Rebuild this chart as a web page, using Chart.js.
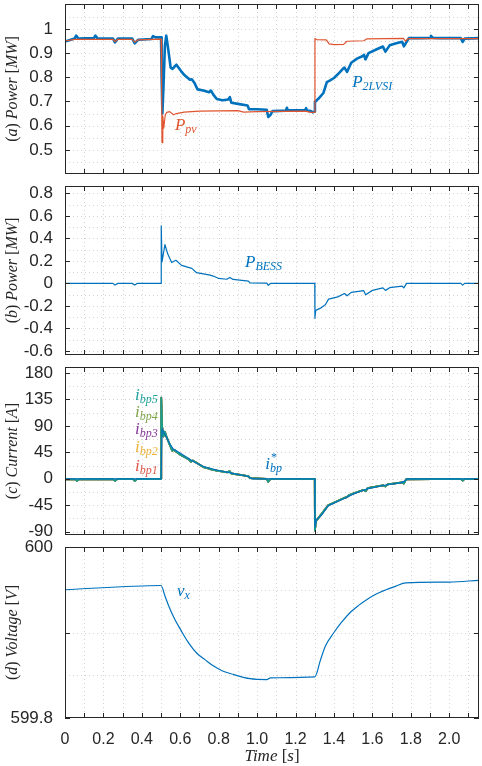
<!DOCTYPE html>
<html>
<head>
<meta charset="utf-8">
<script src="https://cdn.jsdelivr.net/npm/chart.js@4.4.0/dist/chart.umd.min.js"></script>
<style>
  body { margin: 0; background: #fff; }
  #wrap { position: relative; width: 482px; height: 766px; }
  .panel { position: absolute; left: 0; width: 482px; }
</style>
</head>
<body>
<div id="wrap">
  <div class="panel" style="top:0;height:180px"><canvas id="cA"></canvas></div>
  <div class="panel" style="top:180px;height:180px"><canvas id="cB"></canvas></div>
  <div class="panel" style="top:360px;height:180px"><canvas id="cC"></canvas></div>
  <div class="panel" style="top:540px;height:226px"><canvas id="cD"></canvas></div>
</div>
<script>
// time axis
const xMajor = [0, 0.2, 0.4, 0.6, 0.8, 1.0, 1.2, 1.4, 1.6, 1.8, 2.0];
const xLabels = ['0', '0.2', '0.4', '0.6', '0.8', '1.0', '1.2', '1.4', '1.6', '1.8', '2.0'];
const xMinor = [0.1, 0.3, 0.5, 0.7, 0.9, 1.1, 1.3, 1.5, 1.7, 1.9, 2.1];

// (a) power [MW]  -- [time, value]
const pPv = [[0,0.95],[0.05,0.957],[0.25,0.957],[0.26,0.947],[0.275,0.957],[0.35,0.957],[0.363,0.945],[0.38,0.955],
  [0.5,0.958],[0.503,0.75],[0.505,0.53],[0.509,0.64],[0.514,0.59],[0.522,0.645],[0.53,0.655],[0.545,0.658],
  [0.565,0.645],[0.58,0.65],[0.62,0.656],[0.7,0.66],[0.9,0.662],[0.93,0.656],[1.0,0.658],[1.25,0.66],[1.28,0.655],
  [1.3,0.655],[1.301,0.96],[1.31,0.956],[1.36,0.955],[1.375,0.938],[1.4,0.935],[1.45,0.936],[1.468,0.949],
  [1.555,0.951],[1.572,0.959],[1.762,0.961],[1.772,0.949],[1.785,0.96],[2.155,0.96]];
const pInv = [[0,0.948],[0.03,0.955],[0.05,0.96],[0.058,0.972],[0.07,0.96],[0.15,0.962],[0.158,0.972],[0.17,0.96],
  [0.25,0.96],[0.26,0.944],[0.275,0.96],[0.35,0.96],[0.363,0.94],[0.38,0.955],[0.45,0.958],[0.458,0.97],[0.47,0.965],
  [0.5,0.965],[0.503,0.8],[0.507,0.65],[0.512,0.75],[0.52,0.93],[0.527,0.972],[0.535,0.93],[0.55,0.84],[0.56,0.835],
  [0.58,0.852],[0.6,0.83],[0.62,0.81],[0.65,0.79],[0.66,0.792],[0.675,0.775],[0.69,0.75],[0.72,0.745],[0.75,0.738],
  [0.76,0.745],[0.772,0.728],[0.79,0.71],[0.82,0.705],[0.85,0.708],[0.858,0.718],[0.866,0.695],[0.9,0.69],[0.95,0.683],
  [0.958,0.668],[1.0,0.668],[1.05,0.666],[1.058,0.636],[1.07,0.645],[1.08,0.66],[1.15,0.662],[1.155,0.674],[1.16,0.663],
  [1.25,0.664],[1.255,0.672],[1.26,0.662],[1.28,0.66],[1.29,0.655],[1.3,0.658],[1.301,0.698],[1.32,0.712],[1.345,0.735],
  [1.363,0.78],[1.38,0.787],[1.4,0.797],[1.43,0.82],[1.45,0.838],[1.455,0.84],[1.468,0.822],[1.49,0.86],[1.52,0.877],
  [1.55,0.888],[1.556,0.893],[1.564,0.874],[1.58,0.9],[1.62,0.915],[1.655,0.927],[1.668,0.906],[1.69,0.932],[1.72,0.94],
  [1.755,0.947],[1.764,0.928],[1.79,0.962],[1.85,0.962],[1.9,0.963],[1.905,0.971],[1.915,0.963],[1.95,0.962],
  [2.06,0.962],[2.07,0.946],[2.08,0.96],[2.155,0.962]];
const yMajorA = [0.5, 0.6, 0.7, 0.8, 0.9, 1];
const yLabelsA = ['0.5', '0.6', '0.7', '0.8', '0.9', '1'];
const yGridA = [0.45, 0.5, 0.55, 0.6, 0.65, 0.7, 0.75, 0.8, 0.85, 0.9, 0.95, 1, 1.05];

// (b) BESS power [MW]
const pBess = [[0,0],[0.25,0],[0.26,-0.015],[0.275,0],[0.35,0],[0.363,-0.015],[0.375,0],[0.5,0],[0.501,0.51],
  [0.505,0.19],[0.52,0.345],[0.535,0.26],[0.555,0.185],[0.577,0.205],[0.607,0.16],[0.66,0.133],[0.685,0.095],
  [0.755,0.074],[0.772,0.065],[0.8,0.044],[0.842,0.037],[0.858,0.053],[0.875,0.035],[0.955,0.02],[0.963,0.004],
  [1.05,0.003],[1.058,-0.018],[1.07,0],[1.3,0],[1.301,-0.31],[1.305,-0.24],[1.33,-0.22],[1.355,-0.19],[1.372,-0.14],
  [1.42,-0.12],[1.455,-0.09],[1.468,-0.11],[1.49,-0.08],[1.555,-0.065],[1.565,-0.1],[1.6,-0.062],[1.655,-0.04],
  [1.668,-0.062],[1.69,-0.038],[1.755,-0.025],[1.764,-0.04],[1.778,0],[2.06,0],[2.07,-0.015],[2.08,0],[2.155,0]];
const yMajorB = [-0.6, -0.4, -0.2, 0, 0.2, 0.4, 0.6, 0.8];
const yLabelsB = ['-0.6', '-0.4', '-0.2', '0', '0.2', '0.4', '0.6', '0.8'];
const yGridB = [-0.6, -0.5, -0.4, -0.3, -0.2, -0.1, 0, 0.1, 0.2, 0.3, 0.4, 0.5, 0.6, 0.7, 0.8];

// (c) current [A]
const iRef = [[0,0],[0.5,0],[0.501,0],[0.505,85],[0.515,78],[0.528,71],[0.545,60],[0.563,51],[0.607,42],[0.66,31],
  [0.72,21],[0.79,15],[0.86,10],[0.92,6],[0.955,4],[0.972,0],[1.3,0],[1.301,-83],[1.308,-70],[1.335,-62],[1.37,-46],
  [1.45,-34],[1.5,-26],[1.574,-17],[1.66,-11],[1.747,-7],[1.774,-3],[1.78,0],[2.155,0]];
const iBp = [[0,-1],[0.055,-1],[0.062,-3.5],[0.072,-1],[0.25,-0.5],[0.26,-3.5],[0.272,-0.5],[0.355,-0.5],[0.363,-3.5],
  [0.375,-0.5],[0.5,0],[0.501,138],[0.505,90],[0.512,72],[0.52,80],[0.53,70],[0.545,58],[0.558,48],[0.568,49],
  [0.6,41],[0.645,33],[0.655,29],[0.665,31],[0.72,20],[0.755,17],[0.765,15.5],[0.79,14],[0.845,11],[0.856,13],
  [0.866,9],[0.93,6],[0.955,4],[0.963,1],[1.05,0],[1.058,-5],[1.07,0],[1.3,0],[1.301,-88],[1.306,-72],[1.335,-60],
  [1.37,-45],[1.45,-33],[1.468,-31],[1.478,-28],[1.5,-25],[1.555,-19],[1.565,-21],[1.575,-16],[1.655,-11],
  [1.668,-13],[1.68,-9.5],[1.755,-6],[1.764,-8],[1.775,-1],[2.06,0],[2.07,-3],[2.08,0],[2.155,0]];
const yMajorC = [-90, -45, 0, 45, 90, 135, 180];
const yLabelsC = ['-90', '-45', '0', '45', '90', '135', '180'];
const yGridC = [-90, -67.5, -45, -22.5, 0, 22.5, 45, 67.5, 90, 112.5, 135, 157.5, 180];

// (d) voltage [V]
const vX = [[0,599.95],[0.5,599.955],[0.52,599.943],[0.54,599.931],[0.57,599.916],[0.6,599.904],[0.64,599.889],[0.685,599.876],
  [0.73,599.868],[0.772,599.861],[0.82,599.855],[0.876,599.851],[0.963,599.846],[1.05,599.845],[1.07,599.847],
  [1.3,599.848],[1.33,599.868],[1.355,599.884],[1.4,599.9],[1.44,599.912],[1.487,599.924],[1.53,599.932],
  [1.574,599.939],[1.62,599.945],[1.66,599.949],[1.72,599.954],[1.774,599.958],[2.0,599.959],[2.155,599.961]];
const yMajorD = [599.8, 599.9, 600];
const yLabelsD = ['599.8', '', '600'];
const yGridD = [599.8, 599.85, 599.9, 599.95, 600];

const SANS = '"Liberation Sans", Arial, sans-serif';
const SERIF = '"Liberation Serif", "Times New Roman", serif';
const it = s => `italic ${s}px ${SERIF}`;
const up = s => `${s}px ${SERIF}`;
const BLUE = '#0072BD', RED = '#E0552F';

function axisTitle(letter, word, unit) {
  return [{s: '(', f: up(16)}, {s: letter, f: it(16)}, {s: ') ', f: up(16)}, {s: word, f: it(16)},
          {s: ' [', f: up(16)}, {s: unit, f: it(16)}, {s: ']', f: up(16)}];
}
function sub(main, low, color, t, v) {
  return {t, v, color, parts: [{s: main, f: it(17)}, {s: low, f: it(12), dy: 3}]};
}

function drawRich(ctx, parts, x, y, align) {
  let w = 0;
  parts.forEach(p => { ctx.font = p.f; if (!p.stack) w += ctx.measureText(p.s).width; });
  let cx = align === 'center' ? x - w / 2 : x;
  parts.forEach(p => {
    ctx.font = p.f;
    ctx.fillText(p.s, cx + (p.dx || 0), y + (p.dy || 0));
    if (!p.stack) cx += ctx.measureText(p.s).width;
  });
}

const extras = {};
const frame = {
  id: 'frame',
  beforeDatasetsDraw(chart) {
    const e = extras[chart.canvas.id];
    const {ctx, chartArea: a} = chart;
    const x = chart.scales.x, y = chart.scales.y;
    ctx.save();
    ctx.strokeStyle = '#d4d4d4';
    ctx.lineWidth = 1;
    ctx.setLineDash([1, 3]);
    ctx.beginPath();
    xMajor.concat(xMinor).forEach(v => {
      const p = Math.round(x.getPixelForValue(v)) + 0.5;
      if (p > a.left + 1 && p < a.right - 1) { ctx.moveTo(p, a.top); ctx.lineTo(p, a.bottom); }
    });
    e.yGrid.forEach(v => {
      const p = Math.round(y.getPixelForValue(v)) + 0.5;
      if (p > a.top + 1 && p < a.bottom - 1) { ctx.moveTo(a.left, p); ctx.lineTo(a.right, p); }
    });
    ctx.stroke();
    ctx.restore();
  },
  afterDatasetsDraw(chart) {
    const e = extras[chart.canvas.id];
    const {ctx, chartArea: a} = chart;
    const x = chart.scales.x, y = chart.scales.y;
    ctx.save();
    ctx.strokeStyle = '#262626';
    ctx.lineWidth = 1;
    ctx.strokeRect(Math.round(a.left) + 0.5, Math.round(a.top) + 0.5,
                   Math.round(a.right - a.left) - 1, Math.round(a.bottom - a.top) - 1);
    ctx.beginPath();
    xMajor.concat(xMinor).forEach(v => {
      const p = Math.round(x.getPixelForValue(v)) + 0.5;
      ctx.moveTo(p, a.top); ctx.lineTo(p, a.top + 5);
      ctx.moveTo(p, a.bottom); ctx.lineTo(p, a.bottom - 5);
    });
    e.yMajor.forEach(v => {
      const p = Math.round(y.getPixelForValue(v)) + 0.5;
      ctx.moveTo(a.left, p); ctx.lineTo(a.left + 5, p);
      ctx.moveTo(a.right, p); ctx.lineTo(a.right - 5, p);
    });
    ctx.stroke();

    // y-axis title
    ctx.fillStyle = '#262626';
    ctx.textBaseline = 'middle';
    ctx.save();
    ctx.translate(13, (a.top + a.bottom) / 2);
    ctx.rotate(-Math.PI / 2);
    drawRich(ctx, e.title, 0, 0, 'center');
    ctx.restore();
    if (e.xTitle) drawRich(ctx, e.xTitle, (a.left + a.right) / 2, chart.height - 9, 'center');

    // curve labels
    ctx.textBaseline = 'alphabetic';
    e.notes.forEach(n => {
      ctx.fillStyle = n.color;
      drawRich(ctx, n.parts, x.getPixelForValue(n.t), y.getPixelForValue(n.v), 'left');
    });
    ctx.restore();
  }
};

function line(label, pts, color, width) {
  return {label, data: pts.map(p => ({x: p[0], y: p[1]})), borderColor: color, borderWidth: width,
          pointRadius: 0, fill: false, tension: 0, borderJoinStyle: 'round'};
}

function panel(id, datasets, yMin, yMax, yMajor, yLabels, pad, showX) {
  const xScale = showX ? {
    type: 'linear', min: 0, max: 2.155,
    grid: {display: false}, border: {display: false},
    afterBuildTicks: s => { s.ticks = xMajor.map(v => ({value: v})); },
    ticks: {autoSkip: false, maxRotation: 0, padding: 4, color: '#262626', font: {family: SANS, size: 16},
            callback: (v, i) => xLabels[i]},
    afterFit: s => { s.height = 48; s.paddingLeft = 0; s.paddingRight = 0; }
  } : {type: 'linear', min: 0, max: 2.155, display: false};
  return new Chart(document.getElementById(id), {
    type: 'line',
    data: {datasets},
    options: {
      responsive: true, maintainAspectRatio: false, animation: false, devicePixelRatio: 1,
      parsing: false, normalized: true,
      layout: {padding: {left: 0, right: 3, top: pad[0], bottom: pad[1]}},
      plugins: {legend: {display: false}, tooltip: {enabled: false}},
      scales: {
        x: xScale,
        y: {
          type: 'linear', min: yMin, max: yMax,
          grid: {display: false}, border: {display: false},
          afterBuildTicks: s => { s.ticks = yMajor.map(v => ({value: v})); },
          ticks: {autoSkip: false, padding: 4, color: '#262626', font: {family: SANS, size: 17},
                  callback: (v, i) => yLabels[i]},
          afterFit: s => { s.width = 65; s.paddingTop = 0; s.paddingBottom = 0; }
        }
      }
    },
    plugins: [frame]
  });
}

extras.cA = {yMajor: yMajorA, yGrid: yGridA, title: axisTitle('a', 'Power', 'MW'),
  notes: [sub('P', '2LVSI', BLUE, 1.495, 0.76), sub('P', 'pv', RED, 0.572, 0.583)]};
panel('cA', [line('Ppv', pPv, RED, 1.2), line('P2LVSI', pInv, BLUE, 2.6)],
      0.4, 1.103, yMajorA, yLabelsA, [4, 6], false);

extras.cB = {yMajor: yMajorB, yGrid: yGridB, title: axisTitle('b', 'Power', 'MW'),
  notes: [sub('P', 'BESS', BLUE, 0.937, 0.143)]};
panel('cB', [line('PBESS', pBess, BLUE, 1.2)], -0.636, 0.865, yMajorB, yLabelsB, [6, 5], false);

extras.cC = {yMajor: yMajorC, yGrid: yGridC, title: axisTitle('c', 'Current', 'A'),
  notes: [
    sub('i', 'bp5', '#1fa39a', 0.364, 134),
    sub('i', 'bp4', '#7fa64a', 0.364, 105),
    sub('i', 'bp3', '#8a3a9c', 0.364, 76),
    sub('i', 'bp2', '#eeb235', 0.364, 45),
    sub('i', 'bp1', '#e0574a', 0.364, 14),
    {t: 1.042, v: 17.3, color: BLUE, parts: [{s: 'i', f: it(17)}, {s: '*', f: up(12), dy: -8, dx: 1, stack: true},
                                             {s: 'bp', f: it(12), dy: 3}]}
  ]};
panel('cC', [
  line('iref', iRef, BLUE, 1.2),
  line('ibp5', iBp, '#1a9c8e', 1.8),
  line('ibp4', iBp, '#77AC30', 1.8),
  line('ibp3', iBp, '#7E2F8E', 1.8),
  line('ibp2', iBp, '#EDB120', 1.8),
  line('ibp1', iBp, '#D95319', 1.8)
], -95.6, 190.2, yMajorC, yLabelsC, [7, 5], false);

extras.cD = {yMajor: yMajorD, yGrid: yGridD, title: axisTitle('d', 'Voltage', 'V'),
  xTitle: [{s: 'Time', f: it(17)}, {s: ' [', f: up(17)}, {s: 's', f: it(17)}, {s: ']', f: up(17)}],
  notes: [sub('v', 'x', BLUE, 0.583, 599.9427)]};
const dsV = line('vx', vX, BLUE, 1.2);
dsV.cubicInterpolationMode = 'monotone';
panel('cD', [dsV], 599.8, 600, yMajorD, yLabelsD, [7, 0], true);
</script>
</body>
</html>
